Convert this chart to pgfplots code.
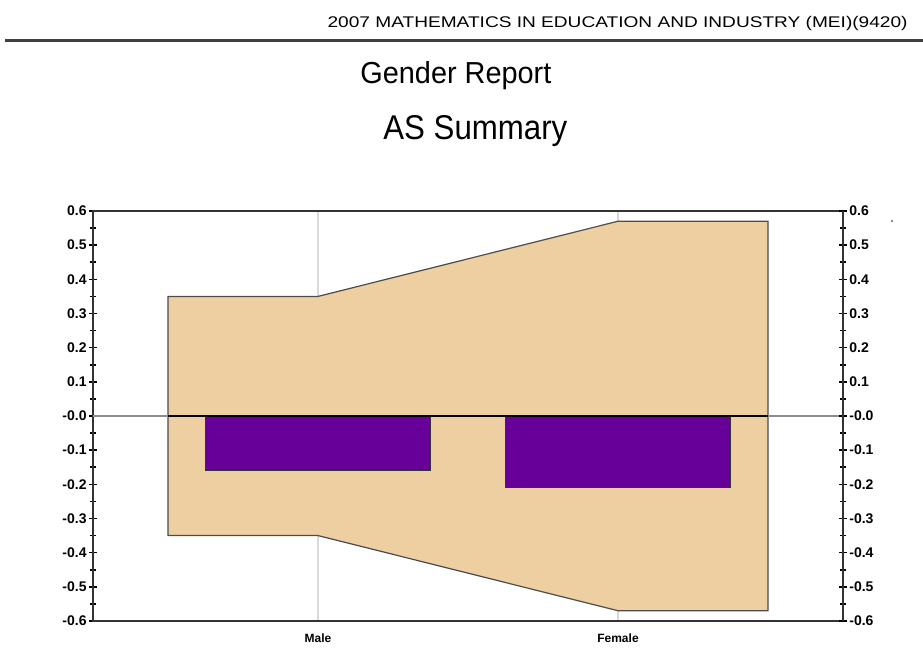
\documentclass[border=0pt]{standalone}
\usepackage{pgfplots}
\pgfplotsset{compat=1.18}
\usepackage{fontspec}
\setmainfont{Liberation Sans}
\definecolor{band}{RGB}{237,207,161}
\definecolor{barc}{RGB}{102,0,153}
\begin{document}
\begin{tikzpicture}
\path[use as bounding box] (0,0) rectangle (461.5pt,324pt);
\node[anchor=base east, inner sep=0] at (454pt,310pt) {\resizebox{290pt}{5.6pt}{\fontsize{8}{8}\selectfont 2007 MATHEMATICS IN EDUCATION AND INDUSTRY (MEI)(9420)}};
\draw[black!75, line width=1.5pt] (2.5pt,303.5pt) -- (461.5pt,303.5pt);
\node[anchor=base west, inner sep=0] at (180pt,282pt) {\resizebox{95.5pt}{11pt}{\fontsize{15}{15}\selectfont Gender Report}};
\node[anchor=base west, inner sep=0] at (191.5pt,254pt) {\resizebox{92pt}{12pt}{\fontsize{16}{16}\selectfont AS Summary}};
\fill[black!60] (446pt,213.5pt) circle (0.6pt);
\begin{axis}[
  at={(46.5pt,13.5pt)}, anchor=south west, scale only axis,
  width=375pt, height=205pt,
  xmin=-0.75, xmax=1.75, ymin=-0.6, ymax=0.6,
  axis line style={black!80, line width=1pt},
  tick align=center,
  ytick={-0.6,-0.5,-0.4,-0.3,-0.2,-0.1,0,0.1,0.2,0.3,0.4,0.5,0.6},
  minor ytick={-0.55,-0.45,-0.35,-0.25,-0.15,-0.05,0.05,0.15,0.25,0.35,0.45,0.55},
  yticklabels={-0.6,-0.5,-0.4,-0.3,-0.2,-0.1,-0.0,0.1,0.2,0.3,0.4,0.5,0.6},
  major tick length=4pt, minor tick length=3pt,
  tick style={black, line width=0.8pt},
  ytick pos=left,
  yticklabel style={font=\bfseries\fontsize{7}{7}\selectfont, inner sep=1pt},
  xtick={0,1}, xticklabels={Male,\raisebox{-1.5pt}{Female}},
  xtick style={draw=none},
  xmajorgrids, x grid style={black!15, line width=0.8pt},
  xticklabel style={font=\bfseries\fontsize{6}{6}\selectfont, yshift=-1pt},
  /pgf/number format/assume math mode=true,
]
\addplot[fill=band, draw=black!70, line width=0.6pt] coordinates {(-0.5,0.35) (0,0.35) (1,0.57) (1.5,0.57) (1.5,-0.57) (1,-0.57) (0,-0.35) (-0.5,-0.35)} -- cycle;
\draw[black!45, line width=1pt] (axis cs:-0.75,0) -- (axis cs:1.75,0);
\addplot[ybar, bar width=0.75, fill=barc, draw=black!80, line width=0.6pt] coordinates {(0,-0.16) (1,-0.21)};
\draw[black, line width=1pt] (axis cs:-0.5,0) -- (axis cs:1.5,0);
\end{axis}
\begin{axis}[
  at={(46.5pt,13.5pt)}, anchor=south west, scale only axis,
  width=375pt, height=205pt,
  xmin=-0.75, xmax=1.75, ymin=-0.6, ymax=0.6,
  hide x axis, axis y line*=right,
  axis line style={black!80, line width=1pt},
  tick align=center,
  ytick={-0.6,-0.5,-0.4,-0.3,-0.2,-0.1,0,0.1,0.2,0.3,0.4,0.5,0.6},
  minor ytick={-0.55,-0.45,-0.35,-0.25,-0.15,-0.05,0.05,0.15,0.25,0.35,0.45,0.55},
  yticklabels={-0.6,-0.5,-0.4,-0.3,-0.2,-0.1,-0.0,0.1,0.2,0.3,0.4,0.5,0.6},
  major tick length=4pt, minor tick length=3pt,
  tick style={black, line width=0.8pt},
  yticklabel style={font=\bfseries\fontsize{7}{7}\selectfont, inner sep=1pt},
  /pgf/number format/assume math mode=true,
]
\addplot[draw=none] coordinates {(0,0)};
\end{axis}
\end{tikzpicture}
\end{document}
